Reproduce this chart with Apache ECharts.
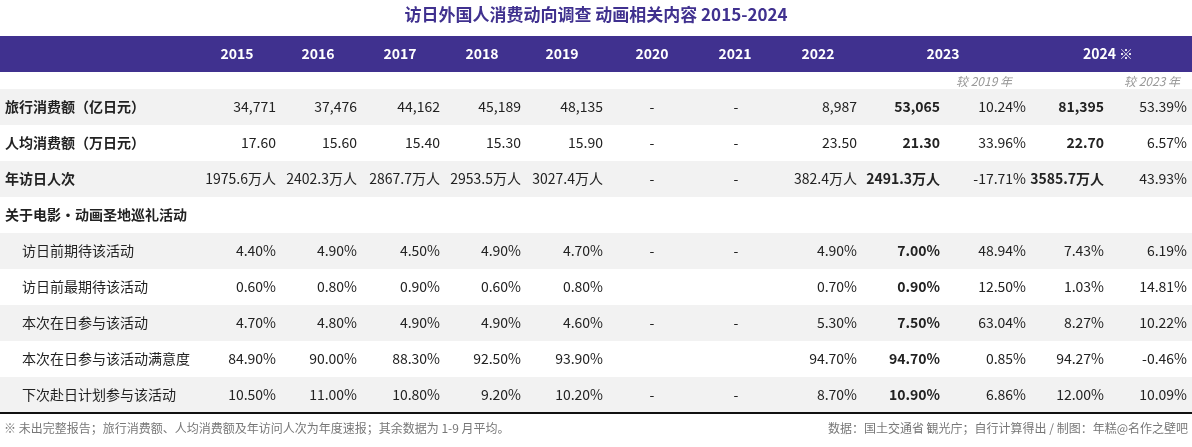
<!DOCTYPE html>
<html>
<head>
<meta charset="utf-8">
<script src="https://cdn.jsdelivr.net/npm/echarts@6/dist/echarts.min.js"></script>
<style>html,body{margin:0;padding:0;background:#fff}#main{width:1192px;height:447px}</style>
</head>
<body>
<div id="main"></div>
<script>
var title = '访日外国人消费动向调查 动画相关内容 2015-2024';
var years = ['2015', '2016', '2017', '2018', '2019', '2020', '2021', '2022', '2023', '2024 ※'];
var rowLabels = ['旅行消费额（亿日元）', '人均消费额（万日元）', '年访日人次', '关于电影・动画圣地巡礼活动',
    '访日前期待该活动', '访日前最期待该活动', '本次在日参与该活动', '本次在日参与该活动满意度', '下次赴日计划参与该活动'];
var indent = [0, 0, 0, 0, 1, 1, 1, 1, 1];
// columns: 2015..2022, 2023, vs2019, 2024, vs2023
var rows = [
    ['34,771', '37,476', '44,162', '45,189', '48,135', '-', '-', '8,987', '53,065', '10.24%', '81,395', '53.39%'],
    ['17.60', '15.60', '15.40', '15.30', '15.90', '-', '-', '23.50', '21.30', '33.96%', '22.70', '6.57%'],
    ['1975.6万人', '2402.3万人', '2867.7万人', '2953.5万人', '3027.4万人', '-', '-', '382.4万人', '2491.3万人', '-17.71%', '3585.7万人', '43.93%'],
    [],
    ['4.40%', '4.90%', '4.50%', '4.90%', '4.70%', '-', '-', '4.90%', '7.00%', '48.94%', '7.43%', '6.19%'],
    ['0.60%', '0.80%', '0.90%', '0.60%', '0.80%', '', '', '0.70%', '0.90%', '12.50%', '1.03%', '14.81%'],
    ['4.70%', '4.80%', '4.90%', '4.90%', '4.60%', '-', '-', '5.30%', '7.50%', '63.04%', '8.27%', '10.22%'],
    ['84.90%', '90.00%', '88.30%', '92.50%', '93.90%', '', '', '94.70%', '94.70%', '0.85%', '94.27%', '-0.46%'],
    ['10.50%', '11.00%', '10.80%', '9.20%', '10.20%', '-', '-', '8.70%', '10.90%', '6.86%', '12.00%', '10.09%']
];
var compareLabels = ['较 2019 年', '较 2023 年'];
var footLeft = '※ 未出完整报告；旅行消费额、人均消费额及年访问人次为年度速报；其余数据为 1-9 月平均。';
var footRight = '数据：国土交通省 観光庁；自行计算得出 / 制图：年糕@名作之壁吧';

var chart = echarts.init(document.getElementById('main'));
var font = '"Noto Sans CJK SC", "Noto Sans", sans-serif';
var purple = '#40318f';
var colRight = [276, 357, 440, 521, 603, 652, 736, 857, 940, 1026, 1104, 1187];
var headCenter = [237, 318, 400, 482, 562, 652, 735, 818, 943, 1108];
var rowTop = 89, rowH = 36;

function isBold(r, c) {
    return c === 8 || (c === 10 && r < 3);
}

var g = [];
g.push({type: 'text', left: 'center', top: 6, style: {text: title, font: 'bold 17px ' + font, fill: purple}});
g.push({type: 'rect', shape: {x: 0, y: 36, width: 1192, height: 36}, style: {fill: purple}});
years.forEach(function (y, i) {
    g.push({type: 'text', x: headCenter[i], y: 54, style: {text: y, font: 'bold 14px ' + font, fill: '#fff', align: 'center', verticalAlign: 'middle'}});
});
g.push({type: 'text', x: 1012, y: 81, style: {text: compareLabels[0], font: 'italic 12px ' + font, fill: '#999', align: 'right', verticalAlign: 'middle'}});
g.push({type: 'text', x: 1180, y: 81, style: {text: compareLabels[1], font: 'italic 12px ' + font, fill: '#999', align: 'right', verticalAlign: 'middle'}});
rowLabels.forEach(function (lab, r) {
    var top = rowTop + r * rowH;
    var cy = top + rowH / 2;
    if (r % 2 === 0) g.push({type: 'rect', shape: {x: 0, y: top, width: 1192, height: rowH}, style: {fill: '#f2f2f2'}});
    g.push({type: 'text', x: indent[r] ? 22 : 5, y: cy, style: {text: lab, font: (indent[r] ? '' : 'bold ') + '14px ' + font, fill: '#222', verticalAlign: 'middle'}});
    rows[r].forEach(function (v, c) {
        var isDash = c === 5 || c === 6;
        g.push({type: 'text', x: colRight[c], y: cy, style: {
            text: v, font: (isBold(r, c) ? 'bold ' : '') + '14px ' + font, fill: '#222',
            align: isDash ? 'center' : 'right', verticalAlign: 'middle'}});
    });
});
g.push({type: 'line', shape: {x1: 0, y1: 413, x2: 1192, y2: 413}, style: {stroke: '#111', lineWidth: 2}});
g.push({type: 'text', x: 4, y: 428, style: {text: footLeft, font: '12px ' + font, fill: '#777', verticalAlign: 'middle'}});
g.push({type: 'text', x: 1188, y: 428, style: {text: footRight, font: '12px ' + font, fill: '#777', align: 'right', verticalAlign: 'middle'}});

chart.setOption({animation: false, graphic: g});
</script>
</body>
</html>
